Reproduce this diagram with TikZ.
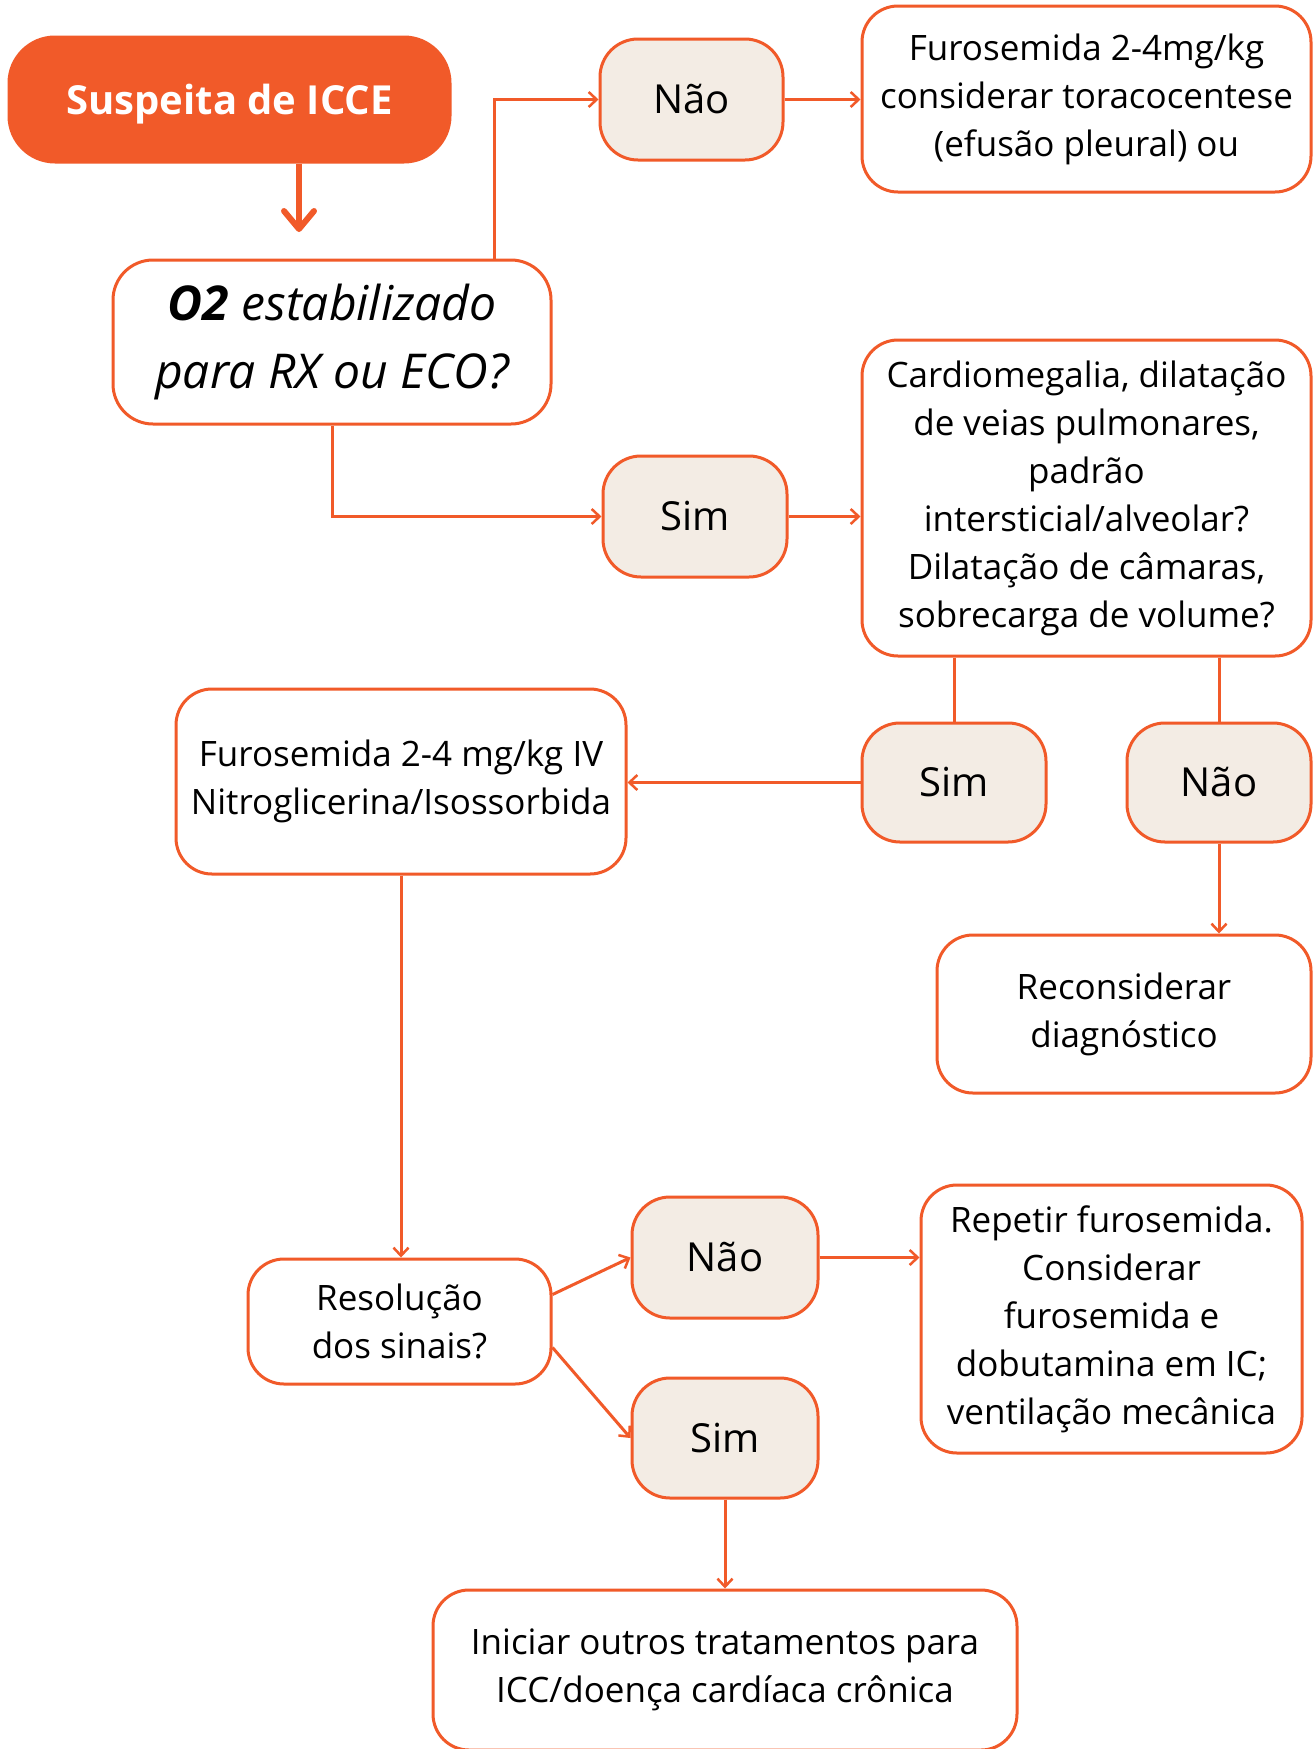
\documentclass[tikz,border=0pt]{standalone}
\usepackage{fontspec}
\setmainfont{Open Sans}
\usetikzlibrary{arrows.meta}
\definecolor{orng}{RGB}{241,90,41}
\definecolor{beige}{RGB}{243,236,228}
\begin{document}
\begin{tikzpicture}[x=1pt,y=-1pt,
 box/.style={draw=orng,line width=3pt,rounded corners=36pt,fill=white,align=center,inner sep=0pt,font=\fontsize{35}{48}\selectfont,text=black},
 ans/.style={box,fill=beige,rounded corners=38pt,font=\fontsize{40}{48}\selectfont},
 conn/.style={draw=orng,line width=3pt},
 arr/.style={conn,-{Straight Barb[length=8pt,width=15pt,line width=2.5pt]}},
 bigarr/.style={draw=orng,line width=6pt,-{Straight Barb[length=18pt,width=30pt,line width=6pt,round]}}
]
\useasboundingbox[fill=white] (0,0) rectangle (1314,1749);

\node[box,fill=orng,draw=orng,rounded corners=46pt,minimum width=441pt,minimum height=125pt,text=white,text depth=0pt,font=\fontsize{40}{48}\selectfont\bfseries] (susp) at (229.5,99.5) {Suspeita de ICCE};
\node[box,rounded corners=40pt,minimum width=438pt,minimum height=164pt,font=\fontsize{48}{68}\selectfont\itshape] (o2) at (332,342) {\textbf{O2} estabilizado\\para RX ou ECO?};
\node[ans,minimum width=183pt,minimum height=121pt] (nao1) at (691.5,99.5) {Não};
\node[box,minimum width=449pt,minimum height=186pt] (furo1) at (1086.5,99) {Furosemida 2-4mg/kg\\considerar toracocentese\\(efusão pleural) ou};
\node[ans,minimum width=184pt,minimum height=121pt] (sim1) at (695,516.5) {Sim};
\node[box,minimum width=449pt,minimum height=316pt] (cardio) at (1086.5,498) {Cardiomegalia, dilatação\\de veias pulmonares,\\padrão\\intersticial/alveolar?\\Dilatação de câmaras,\\sobrecarga de volume?};
\node[ans,minimum width=184pt,minimum height=119pt] (sim2) at (954,782.5) {Sim};
\node[ans,minimum width=184pt,minimum height=119pt] (nao2) at (1219,782.5) {Não};
\node[box,minimum width=450pt,minimum height=185pt] (furo2) at (401,781.5) {Furosemida 2-4 mg/kg IV\\Nitroglicerina/Isossorbida};
\node[box,minimum width=374pt,minimum height=158pt] (recon) at (1124,1014) {Reconsiderar\\diagnóstico};
\node[box,minimum width=303pt,minimum height=125pt] (resol) at (399.5,1321.5) {Resolução\\dos sinais?};
\node[ans,minimum width=186pt,minimum height=121pt] (nao3) at (725,1257.5) {Não};
\node[box,minimum width=381pt,minimum height=268pt] (repetir) at (1111.5,1319) {Repetir furosemida.\\Considerar\\furosemida e\\dobutamina em IC;\\ventilação mecânica};
\node[ans,minimum width=186pt,minimum height=120pt] (sim3) at (725,1438) {Sim};
\node[box,minimum width=584pt,minimum height=160pt] (inic) at (725,1670) {Iniciar outros tratamentos para\\ICC/doença cardíaca crônica};

\coordinate (o2a) at (299,232);
\draw[bigarr] (susp.south -| o2a) -- (o2a);
\draw[arr] ([xshift=162pt]o2.north) |- (nao1.west);
\draw[arr] (nao1.east) -- (nao1.east -| furo1.west);
\draw[arr] (o2.south) |- (sim1.west);
\draw[arr] (sim1.east) -- (sim1.east -| cardio.west);
\draw[conn] (cardio.south -| sim2.north) -- (sim2.north);
\draw[conn] (cardio.south -| nao2.north) -- (nao2.north);
\draw[arr] (sim2.west) -- (sim2.west -| furo2.east);
\draw[arr] (nao2.south) -- (nao2.south |- recon.north);
\draw[arr] (furo2.south) -- (furo2.south |- resol.north);
\draw[arr] ([yshift=27pt]resol.east) -- (nao3.west);
\draw[arr] ([yshift=-26pt]resol.east) -- (sim3.west);
\draw[arr] (nao3.east) -- (nao3.east -| repetir.west);
\draw[arr] (sim3.south) -- (inic.north);
\end{tikzpicture}
\end{document}
